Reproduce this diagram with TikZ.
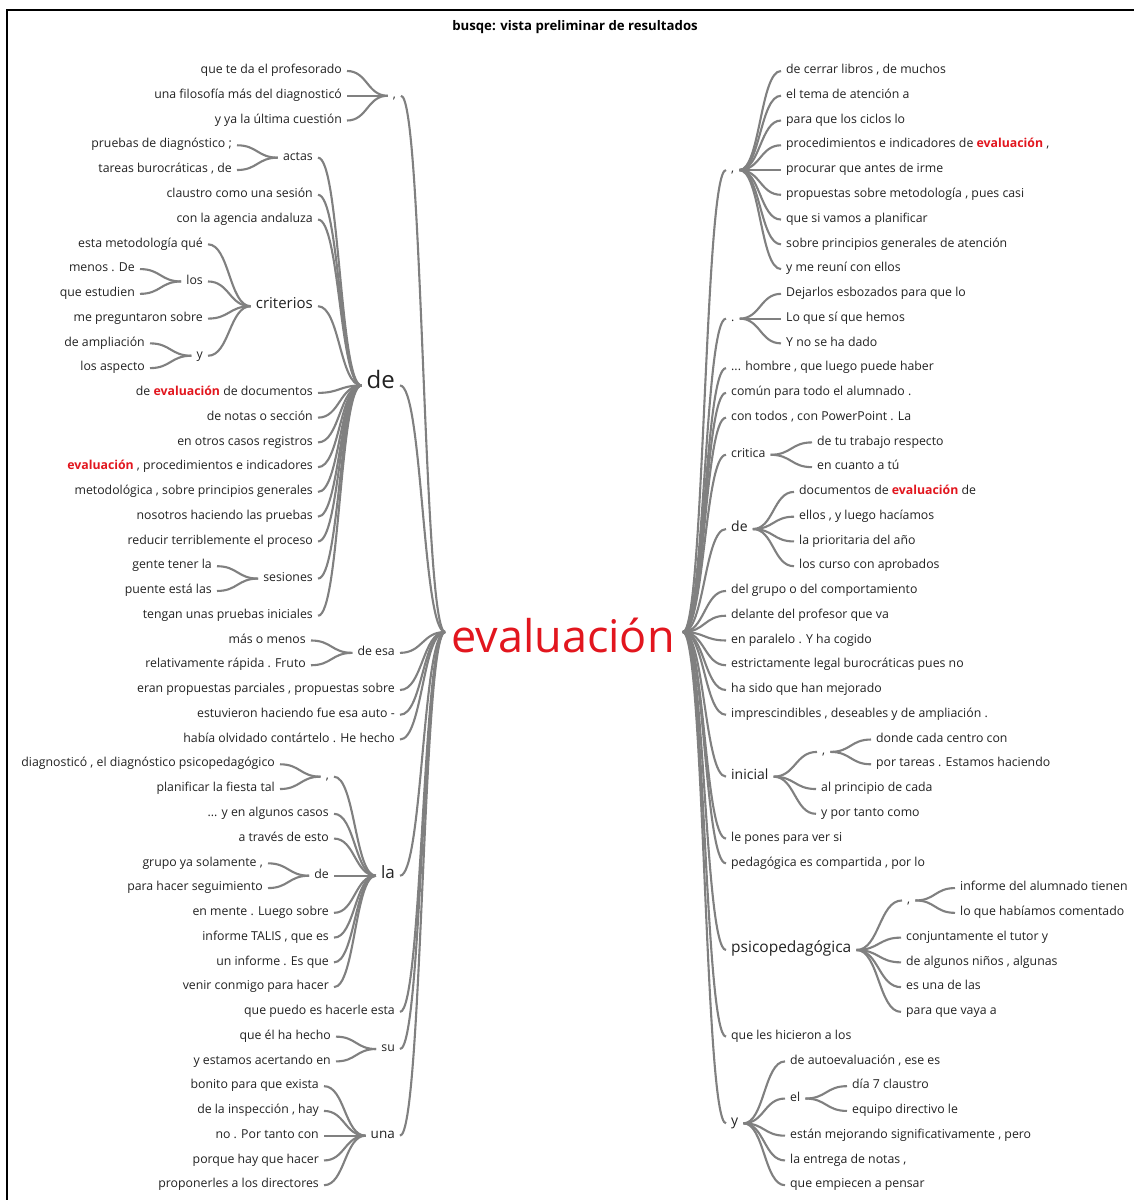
\documentclass[tikz,border=0pt]{standalone}
\usepackage{fontspec}
\setmainfont{Open Sans}
\usetikzlibrary{calc}

\definecolor{linegray}{RGB}{128,128,128}
\definecolor{inkdark}{RGB}{34,34,34}
\definecolor{hired}{RGB}{226,22,30}

\newcommand\fs[1]{\fontsize{#1}{#1}\selectfont}
\newcommand\hl[1]{\textcolor{hired}{\textbf{#1}}}
% vertical position of text row n
\newcommand\Y[1]{71+24.76*#1}

% smooth branch from point #1 (left) to point #2 (right)
\newcommand\cv[2]{\draw[conn] let \p1=(#1), \p2=(#2), \n1={(\x1+\x2)/2} in
  (\p1) .. controls (\n1,\y1) and (\n1,\y2) .. (\p2);}
\newcommand\lk[2]{\cv{$(#1.mid east)+(5,0)$}{$(#2.mid west)+(-5,0)$}}
\newcommand\lkroot[1]{\cv{$(#1.mid east)+(5,0)$}{$(root.west)+(-6,0)$}}
\newcommand\rkroot[1]{\cv{$(root.east)+(8,0)$}{$(#1.mid west)+(-5,0)$}}

\tikzset{
  conn/.style={draw=linegray, line width=2.1pt},
  lf/.style={anchor=mid east, inner sep=0pt, text=inkdark, font=\fs{12.3}},
  rt/.style={anchor=mid west, inner sep=0pt, text=inkdark, font=\fs{12.3}},
}

\begin{document}
\begin{tikzpicture}[x=1pt,y=-1pt]
\useasboundingbox (0,0) rectangle (1134,1200);
\fill[white] (0,0) rectangle (1134,1200);
\draw[black, line width=1.5pt] (7,1200) -- (7,10) -- (1134,10);

\node[inner sep=0pt, font=\fs{13.2}\bfseries, text=black] (title) at (575,27) {busqe: vista preliminar de resultados};

% centre word
\node[inner sep=0pt, anchor=base, text=hired, font=\fs{45}, text height=40pt, text depth=0pt] (root) at (563,652) {evaluación};

% ---------------- left tree ----------------
\node[lf] (l0) at (342,{\Y{0}}) {que te da el profesorado};
\node[lf] (l1) at (342,{\Y{1}}) {una filosofía más del diagnosticó};
\node[lf] (l2) at (342,{\Y{2}}) {y ya la última cuestión};
\node[lf] (lcomA) at (396,{\Y{1}}) {,};
\node[lf] (l3) at (232,{\Y{3}}) {pruebas de diagnóstico ;};
\node[lf] (l4) at (232,{\Y{4}}) {tareas burocráticas , de};
\node[lf] (actas) at (313,{\Y{3.5}}) {actas};
\node[lf] (l5) at (313,{\Y{5}}) {claustro como una sesión};
\node[lf] (l6) at (313,{\Y{6}}) {con la agencia andaluza};
\node[lf] (l7) at (203,{\Y{7}}) {esta metodología qué};
\node[lf] (l8) at (135,{\Y{8}}) {menos . De};
\node[lf] (l9) at (135,{\Y{9}}) {que estudien};
\node[lf] (los) at (203,{\Y{8.5}}) {los};
\node[lf] (l10) at (203,{\Y{10}}) {me preguntaron sobre};
\node[lf] (l11) at (145,{\Y{11}}) {de ampliación};
\node[lf] (l12) at (145,{\Y{12}}) {los aspecto};
\node[lf] (ly) at (203,{\Y{11.5}}) {y};
\node[lf, font=\fs{15}] (criterios) at (313,{\Y{9.5}}) {criterios};
\node[lf] (l13) at (313,{\Y{13}}) {de \hl{evaluación} de documentos};
\node[lf] (l14) at (313,{\Y{14}}) {de notas o sección};
\node[lf] (l15) at (313,{\Y{15}}) {en otros casos registros};
\node[lf] (l16) at (313,{\Y{16}}) {\hl{evaluación} , procedimientos e indicadores};
\node[lf] (l17) at (313,{\Y{17}}) {metodológica , sobre principios generales};
\node[lf] (l18) at (313,{\Y{18}}) {nosotros haciendo las pruebas};
\node[lf] (l19) at (313,{\Y{19}}) {reducir terriblemente el proceso};
\node[lf] (l20) at (212,{\Y{20}}) {gente tener la};
\node[lf] (l21) at (212,{\Y{21}}) {puente está las};
\node[lf] (sesiones) at (313,{\Y{20.5}}) {sesiones};
\node[lf] (l22) at (313,{\Y{22}}) {tengan unas pruebas iniciales};
\node[lf, font=\fs{24}] (deL) at (395,{\Y{12.7}}) {de};
\node[lf] (l23) at (306,{\Y{23}}) {más o menos};
\node[lf] (l24) at (306,{\Y{24}}) {relativamente rápida . Fruto};
\node[lf] (deesa) at (395,{\Y{23.5}}) {de esa};
\node[lf] (l25) at (395,{\Y{25}}) {eran propuestas parciales , propuestas sobre};
\node[lf] (l26) at (395,{\Y{26}}) {estuvieron haciendo fue esa auto -};
\node[lf] (l27) at (395,{\Y{27}}) {había olvidado contártelo . He hecho};
\node[lf] (l28) at (275,{\Y{28}}) {diagnosticó , el diagnóstico psicopedagógico};
\node[lf] (l29) at (275,{\Y{29}}) {planificar la fiesta tal};
\node[lf] (lcomB) at (329,{\Y{28.5}}) {,};
\node[lf] (l30) at (329,{\Y{30}}) {... y en algunos casos};
\node[lf] (l31) at (329,{\Y{31}}) {a través de esto};
\node[lf] (l32) at (263,{\Y{32}}) {grupo ya solamente ,};
\node[lf] (l33) at (263,{\Y{33}}) {para hacer seguimiento};
\node[lf] (deLa) at (329,{\Y{32.5}}) {de};
\node[lf] (l34) at (329,{\Y{34}}) {en mente . Luego sobre};
\node[lf] (l35) at (329,{\Y{35}}) {informe TALIS , que es};
\node[lf] (l36) at (329,{\Y{36}}) {un informe . Es que};
\node[lf] (l37) at (329,{\Y{37}}) {venir conmigo para hacer};
\node[lf, font=\fs{17}] (la) at (395,{\Y{32.5}}) {la};
\node[lf] (l38) at (395,{\Y{38}}) {que puedo es hacerle esta};
\node[lf] (l39) at (331,{\Y{39}}) {que él ha hecho};
\node[lf] (l40) at (331,{\Y{40}}) {y estamos acertando en};
\node[lf] (su) at (395,{\Y{39.5}}) {su};
\node[lf] (l41) at (319,{\Y{41}}) {bonito para que exista};
\node[lf] (l42) at (319,{\Y{42}}) {de la inspección , hay};
\node[lf] (l43) at (319,{\Y{43}}) {no . Por tanto con};
\node[lf] (l44) at (319,{\Y{44}}) {porque hay que hacer};
\node[lf] (l45) at (319,{\Y{45}}) {proponerles a los directores};
\node[lf, font=\fs{13.5}] (una) at (395,{\Y{43}}) {una};

% ---------------- right tree ----------------
\node[rt] (rcomA) at (731,{\Y{4}}) {,};
\node[rt] (r0) at (786,{\Y{0}}) {de cerrar libros , de muchos};
\node[rt] (r1) at (786,{\Y{1}}) {el tema de atención a};
\node[rt] (r2) at (786,{\Y{2}}) {para que los ciclos lo};
\node[rt] (r3) at (786,{\Y{3}}) {procedimientos e indicadores de \hl{evaluación} ,};
\node[rt] (r4) at (786,{\Y{4}}) {procurar que antes de irme};
\node[rt] (r5) at (786,{\Y{5}}) {propuestas sobre metodología , pues casi};
\node[rt] (r6) at (786,{\Y{6}}) {que si vamos a planificar};
\node[rt] (r7) at (786,{\Y{7}}) {sobre principios generales de atención};
\node[rt] (r8) at (786,{\Y{8}}) {y me reuní con ellos};
\node[rt] (rdot) at (731,{\Y{10}}) {.};
\node[rt] (r9) at (786,{\Y{9}}) {Dejarlos esbozados para que lo};
\node[rt] (r10) at (786,{\Y{10}}) {Lo que sí que hemos};
\node[rt] (r11) at (786,{\Y{11}}) {Y no se ha dado};
\node[rt] (r12) at (731,{\Y{12}}) {... hombre , que luego puede haber};
\node[rt] (r13) at (731,{\Y{13}}) {común para todo el alumnado .};
\node[rt] (r14) at (731,{\Y{14}}) {con todos , con PowerPoint . La};
\node[rt] (critica) at (731,{\Y{15.5}}) {critica};
\node[rt] (r15) at (817,{\Y{15}}) {de tu trabajo respecto};
\node[rt] (r16) at (817,{\Y{16}}) {en cuanto a tú};
\node[rt, font=\fs{14}] (deR) at (731,{\Y{18.5}}) {de};
\node[rt] (r17) at (799,{\Y{17}}) {documentos de \hl{evaluación} de};
\node[rt] (r18) at (799,{\Y{18}}) {ellos , y luego hacíamos};
\node[rt] (r19) at (799,{\Y{19}}) {la prioritaria del año};
\node[rt] (r20) at (799,{\Y{20}}) {los curso con aprobados};
\node[rt] (r21) at (731,{\Y{21}}) {del grupo o del comportamiento};
\node[rt] (r22) at (731,{\Y{22}}) {delante del profesor que va};
\node[rt] (r23) at (731,{\Y{23}}) {en paralelo . Y ha cogido};
\node[rt] (r24) at (731,{\Y{24}}) {estrictamente legal burocráticas pues no};
\node[rt] (r25) at (731,{\Y{25}}) {ha sido que han mejorado};
\node[rt] (r26) at (731,{\Y{26}}) {imprescindibles , deseables y de ampliación .};
\node[rt, font=\fs{14}] (inicial) at (731,{\Y{28.5}}) {inicial};
\node[rt] (rcomB) at (822,{\Y{27.5}}) {,};
\node[rt] (r27) at (876,{\Y{27}}) {donde cada centro con};
\node[rt] (r28) at (876,{\Y{28}}) {por tareas . Estamos haciendo};
\node[rt] (r29) at (821,{\Y{29}}) {al principio de cada};
\node[rt] (r30) at (821,{\Y{30}}) {y por tanto como};
\node[rt] (r31) at (731,{\Y{31}}) {le pones para ver si};
\node[rt] (r32) at (731,{\Y{32}}) {pedagógica es compartida , por lo};
\node[rt, font=\fs{15.5}] (psico) at (731,{\Y{35.5}}) {psicopedagógica};
\node[rt] (rcomC) at (907,{\Y{33.5}}) {,};
\node[rt] (r33) at (960,{\Y{33}}) {informe del alumnado tienen};
\node[rt] (r34) at (960,{\Y{34}}) {lo que habíamos comentado};
\node[rt] (r35) at (906,{\Y{35}}) {conjuntamente el tutor y};
\node[rt] (r36) at (906,{\Y{36}}) {de algunos niños , algunas};
\node[rt] (r37) at (906,{\Y{37}}) {es una de las};
\node[rt] (r38) at (906,{\Y{38}}) {para que vaya a};
\node[rt] (r39) at (731,{\Y{39}}) {que les hicieron a los};
\node[rt, font=\fs{14}] (yR) at (731,{\Y{42.5}}) {y};
\node[rt] (r40) at (790,{\Y{40}}) {de autoevaluación , ese es};
\node[rt] (el) at (790,{\Y{41.5}}) {el};
\node[rt] (r41) at (852,{\Y{41}}) {día 7 claustro};
\node[rt] (r42) at (852,{\Y{42}}) {equipo directivo le};
\node[rt] (r43) at (790,{\Y{43}}) {están mejorando significativamente , pero};
\node[rt] (r44) at (790,{\Y{44}}) {la entrega de notas ,};
\node[rt] (r45) at (790,{\Y{45}}) {que empiecen a pensar};

% ---------------- branches, left ----------------
\foreach \c in {l0,l1,l2} {\lk{\c}{lcomA}}
\foreach \c in {l3,l4} {\lk{\c}{actas}}
\foreach \c in {l8,l9} {\lk{\c}{los}}
\foreach \c in {l11,l12} {\lk{\c}{ly}}
\foreach \c in {l7,los,l10,ly} {\lk{\c}{criterios}}
\foreach \c in {l20,l21} {\lk{\c}{sesiones}}
\foreach \c in {actas,l5,l6,criterios,l13,l14,l15,l16,l17,l18,l19,sesiones,l22} {\lk{\c}{deL}}
\foreach \c in {l23,l24} {\lk{\c}{deesa}}
\foreach \c in {l28,l29} {\lk{\c}{lcomB}}
\foreach \c in {l32,l33} {\lk{\c}{deLa}}
\foreach \c in {lcomB,l30,l31,deLa,l34,l35,l36,l37} {\lk{\c}{la}}
\foreach \c in {l39,l40} {\lk{\c}{su}}
\foreach \c in {l41,l42,l43,l44,l45} {\lk{\c}{una}}
\foreach \c in {lcomA,deL,deesa,l25,l26,l27,la,l38,su,una} {\lkroot{\c}}

% ---------------- branches, right ----------------
\foreach \c in {r0,r1,r2,r3,r4,r5,r6,r7,r8} {\lk{rcomA}{\c}}
\foreach \c in {r9,r10,r11} {\lk{rdot}{\c}}
\foreach \c in {r15,r16} {\lk{critica}{\c}}
\foreach \c in {r17,r18,r19,r20} {\lk{deR}{\c}}
\foreach \c in {r27,r28} {\lk{rcomB}{\c}}
\foreach \c in {rcomB,r29,r30} {\lk{inicial}{\c}}
\foreach \c in {r33,r34} {\lk{rcomC}{\c}}
\foreach \c in {rcomC,r35,r36,r37,r38} {\lk{psico}{\c}}
\foreach \c in {r41,r42} {\lk{el}{\c}}
\foreach \c in {r40,el,r43,r44,r45} {\lk{yR}{\c}}
\foreach \c in {rcomA,rdot,r12,r13,r14,critica,deR,r21,r22,r23,r24,r25,r26,inicial,r31,r32,psico,r39,yR} {\rkroot{\c}}
\end{tikzpicture}
\end{document}
